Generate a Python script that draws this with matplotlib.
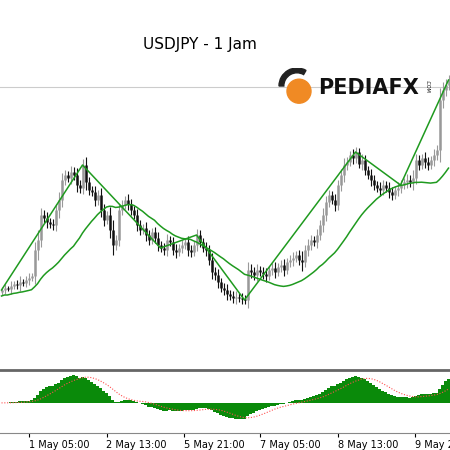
import numpy as np
import matplotlib
matplotlib.use("Agg")
import matplotlib.pyplot as plt
from matplotlib.patches import Circle, Wedge

closes = [110,112,111,114,116,115,118,117,120,122,124,
 150,160,185,182,178,176,175,190,200,220,225,222,228,225,215,212,235,218,210,
 208,200,205,190,180,185,170,155,160,190,195,200,196,190,185,175,170,172,165,160,
 168,162,155,152,150,160,158,150,148,152,155,158,150,148,155,165,158,152,150,140,
 128,125,118,112,110,106,104,102,103,102,101,100,130,128,125,130,128,126,124,130,
 132,128,133,135,130,138,140,142,145,140,138,150,155,160,158,165,175,185,198,205,
 200,195,215,225,235,238,245,242,248,236,240,230,225,220,215,212,210,215,212,208,
 205,210,212,215,218,220,218,222,240,235,242,238,235,240,245,250,300,310,315,320]
wicks = [3,4,2,5,3,4,6,3,4,5,3,8,10,7,5,6,4,5,6,8,7,5,4,6,5,7,5,6,8,5,
 4,6,5,7,6,4,8,10,5,6,5,4,6,5,4,6,5,4,6,5,4,5,6,4,5,6,4,5,6,4,
 5,4,6,5,4,6,5,4,6,5,7,5,6,4,5,6,4,5,6,4,5,4,8,6,5,6,4,5,6,4,
 5,6,4,5,6,4,5,6,4,5,9,5,6,5,4,6,5,7,6,5,4,6,5,6,7,5,4,6,5,4,
 6,5,4,6,5,4,6,5,4,6,5,4,6,5,4,6,5,8,6,5,4,6,5,4,6,5,12,8,6,5]
zz_idx = [0,27,53,65,81,118,133,149]
tick_pos = [9.3,35,60.7,86.3,112,137.7]
tick_labels = ["1 May 05:00","2 May 13:00","5 May 21:00","7 May 05:00","8 May 13:00","9 May 21:00"]

c = np.array(closes, float)
o = np.r_[c[0]-2, c[:-1]]
w = np.array(wicks, float)
hi = np.maximum(o, c) + w
lo = np.minimum(o, c) - w
x = np.arange(len(c))

fig = plt.figure(figsize=(4.5,4.5), dpi=100)
ax = fig.add_axes([0, 1-365/450, 1, 365/450])
ax.set_xlim(-0.5, len(c)-0.5)
ax.set_ylim(35, 400)
ax.axis('off')
ax.axhline(313, color='#cccccc', lw=0.8)
for i in x:
    col = '#111111' if c[i] < o[i] else '#999999'
    ax.vlines(i, lo[i], hi[i], color=col, lw=0.8)
    ax.vlines(i, min(o[i],c[i]), max(o[i],c[i]) + 0.5, color=col, lw=1.8)
ma = np.array([c[max(0,i-24):i+1].mean() for i in x])
ax.plot(x, ma - 6, color='#1f9a1f', lw=1.1)
zy = [c[i] for i in zz_idx]
ax.plot(zz_idx, zy, color='#1f9a1f', lw=1.1)
fig.text(200/450, 1-45/450, "USDJPY - 1 Jam", fontsize=11, ha='center', va='center')
fig.text(318/450, 1-88/450, "PEDIAFX", fontsize=15, fontweight='bold', ha='left', va='center', color='#111111')
fig.text(427/450, 1-86/450, ".COM", fontsize=3.5, rotation=270, ha='center', va='center')
lax = fig.add_axes([275/450, 1-108/450, 40/450, 40/450])
lax.set_xlim(0,1); lax.set_ylim(0,1); lax.axis('off')
lax.add_patch(Circle((0.6,0.42), 0.3, color='#f08a24'))
lax.add_patch(Wedge((0.55,0.55), 0.45, 60, 180, width=0.12, color='#222222'))

ax2 = fig.add_axes([0, 17/450, 1, 63/450])
ax2.set_xlim(-0.5, len(c)-0.5)
def ema(a, n):
    k = 2/(n+1); r = [a[0]]
    for v in a[1:]: r.append(r[-1]+k*(v-r[-1]))
    return np.array(r)
macd = ema(c,12) - ema(c,26)
sig = np.convolve(np.r_[np.full(8, macd[0]), macd], np.ones(9)/9, 'valid')
ax2.bar(x, macd, width=0.8, color='#0a8a0a')
ax2.plot(x, sig, color='#ff5050', lw=0.8, ls=(0,(1,1.5)))
m = np.abs(macd).max()
ax2.set_ylim(-m*1.1, m*1.2)
for s in ['left','right']: ax2.spines[s].set_visible(False)
ax2.spines['top'].set_color('#666666'); ax2.spines['top'].set_linewidth(2)
ax2.spines['bottom'].set_color('#888888')
ax2.set_yticks([])
ax2.set_xticks(tick_pos)
ax2.set_xticklabels(tick_labels, fontsize=7, ha='left')
ax2.tick_params(axis='x', length=3, pad=2)
fig.savefig("out.png", dpi=100)
